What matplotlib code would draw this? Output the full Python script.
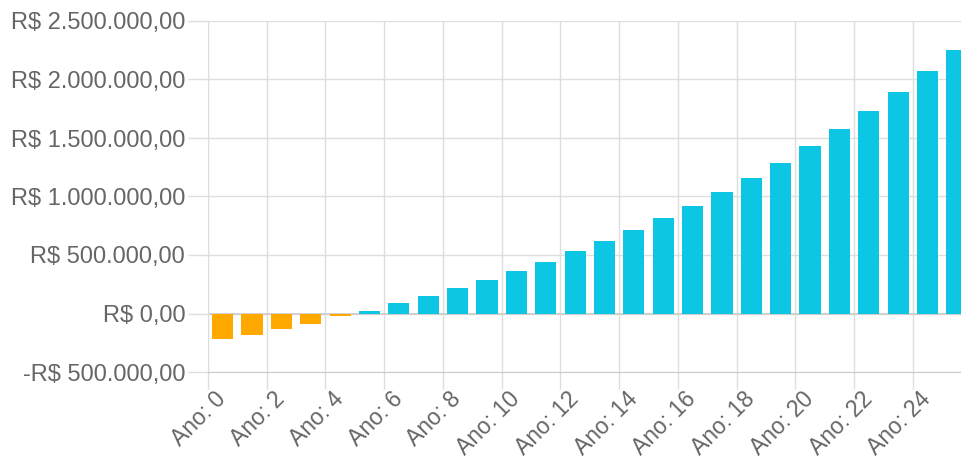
import matplotlib
matplotlib.use("Agg")
import matplotlib.pyplot as plt
from matplotlib.ticker import FuncFormatter, FixedLocator
import numpy as np

# Fluxo de caixa acumulado por ano
anos = list(range(26))
saldo = [
    -222000, -180000, -134000, -86000, -25000, 24000, 86000, 148000,
    214000, 285000, 365000, 442000, 533000, 619000, 713000, 813000,
    921000, 1036000, 1161000, 1287000, 1432000, 1581000, 1732000,
    1895000, 2072000, 2248000,
]
y_ticks = [-500000, 0, 500000, 1000000, 1500000, 2000000, 2500000]

plt.rcParams["font.family"] = ["Liberation Sans", "DejaVu Sans"]

text_color = "#666666"
grid_color = "#dedede"
orange = "#FFA800"
cyan = "#0CC6E4"


def brl(v, pos=None):
    s = f"{abs(v):,.2f}".replace(",", "X").replace(".", ",").replace("X", ".")
    return ("-R$ " if v < 0 else "R$ ") + s


fig = plt.figure(figsize=(9.62, 4.61), dpi=100)
ax = fig.add_axes([208 / 962, 89 / 461, 763.6 / 962, 351 / 461])

x = np.arange(len(anos))
colors = [orange if v < 0 else cyan for v in saldo]
ax.bar(x, saldo, width=0.72, color=colors, zorder=3)

ax.set_xlim(-0.5, len(anos) - 0.5)
ax.set_ylim(y_ticks[0], y_ticks[-1])

# y axis
ax.yaxis.set_major_locator(FixedLocator(y_ticks))
ax.yaxis.set_major_formatter(FuncFormatter(brl))
ax.tick_params(axis="y", which="major", length=14.4, width=1, color=grid_color,
               labelsize=17, labelcolor=text_color, pad=2)
ax.grid(axis="y", which="major", color=grid_color, linewidth=1, zorder=0)
ax.axhline(0, color="#cccccc", linewidth=1.2, zorder=2)

# x axis: gridlines on boundaries of every other category, labels at even years
ax.xaxis.set_minor_locator(FixedLocator(np.arange(-0.5, len(anos), 2)))
ax.xaxis.set_major_locator(FixedLocator(x[::2]))
ax.set_xticklabels([f"Ano: {a}" for a in anos[::2]], rotation=45,
                   ha="right", va="center", rotation_mode="anchor")
ax.tick_params(axis="x", which="major", length=0, labelsize=16.5,
               labelcolor=text_color, pad=17)
ax.tick_params(axis="x", which="minor", length=12, width=1, color=grid_color)
ax.grid(axis="x", which="minor", color=grid_color, linewidth=1, zorder=0)

for side in ["top", "right"]:
    ax.spines[side].set_visible(False)
ax.spines["left"].set_color(grid_color)
ax.spines["bottom"].set_color("#cccccc")

fig.savefig("out.png", dpi=100)
